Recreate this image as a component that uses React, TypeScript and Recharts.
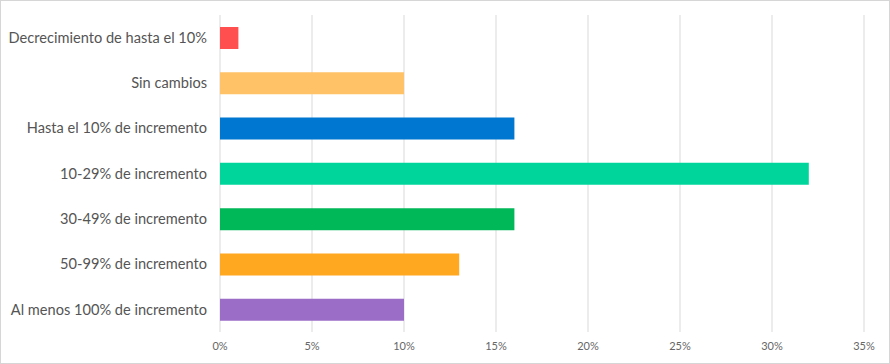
import React from 'react';
import { BarChart, Bar, XAxis, YAxis, CartesianGrid, Cell } from 'recharts';

const categories = [
  'Decrecimiento de hasta el 10%',
  'Sin cambios',
  'Hasta el 10% de incremento',
  '10-29% de incremento',
  '30-49% de incremento',
  '50-99% de incremento',
  'Al menos 100% de incremento',
];

const percentages = [1, 10, 16, 32, 16, 13, 10];

const barColors = ['#FF4F4F', '#FFC266', '#0077D0', '#00D69B', '#00B857', '#FFA820', '#9B6DC6'];

const xTicks = [0, 5, 10, 15, 20, 25, 30, 35];

const chartData = categories.map((name, i) => ({ name, value: percentages[i] }));

export default function App() {
  return (
    <div
      style={{
        position: 'absolute',
        left: 0,
        top: 0,
        width: 890,
        height: 364,
        background: '#fff',
        fontFamily: 'Lato, sans-serif',
      }}
    >
      <BarChart
        width={890}
        height={364}
        data={chartData}
        layout="vertical"
        margin={{ top: 15, right: 26, bottom: 0, left: 0 }}
        barSize={22}
      >
        <CartesianGrid horizontal={false} stroke="#d9d9d9" />
        <XAxis
          type="number"
          domain={[0, 35]}
          ticks={xTicks}
          tickFormatter={(v: number) => `${v}%`}
          axisLine={false}
          tickLine={false}
          tickSize={0}
          tickMargin={10}
          height={32}
          tick={{ fill: '#666', fontSize: 11, fontFamily: 'Lato, sans-serif' }}
          interval={0}
        />
        <YAxis
          type="category"
          dataKey="name"
          width={220}
          axisLine={false}
          tickLine={false}
          tickSize={0}
          tickMargin={13}
          interval={0}
          tick={{ fill: '#555', fontSize: 14.6, fontFamily: 'Lato, sans-serif' }}
        />
        <Bar dataKey="value" isAnimationActive={false}>
          {chartData.map((d, i) => (
            <Cell key={d.name} fill={barColors[i]} />
          ))}
        </Bar>
      </BarChart>
      <div
        style={{
          position: 'absolute',
          left: 0,
          top: 0,
          width: 890,
          height: 364,
          boxSizing: 'border-box',
          border: '1px solid #d6d6d6',
          pointerEvents: 'none',
        }}
      />
    </div>
  );
}
